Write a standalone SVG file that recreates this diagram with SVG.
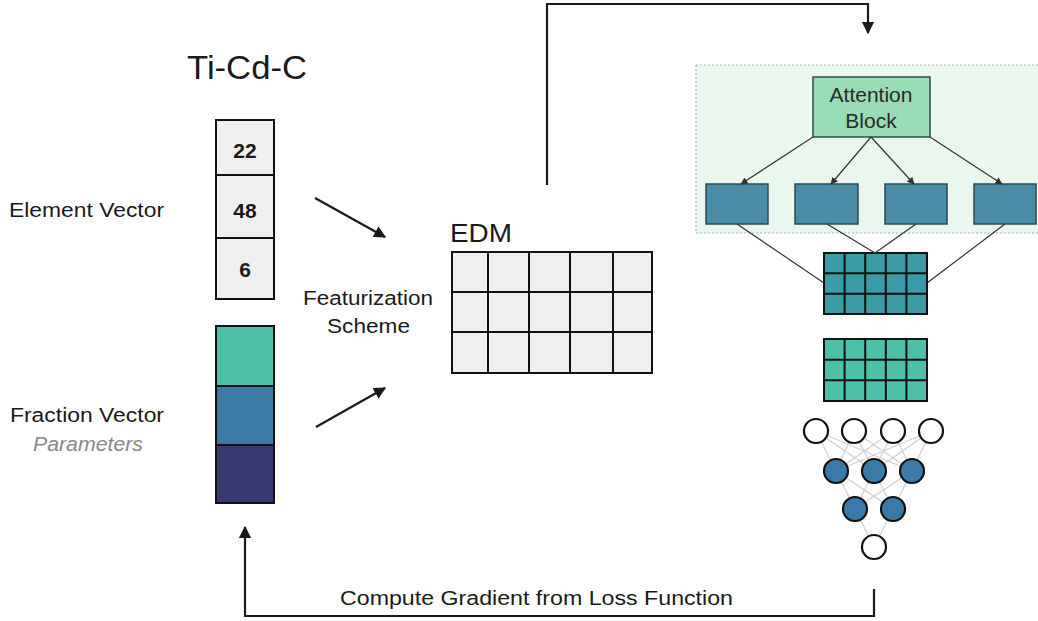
<svg xmlns="http://www.w3.org/2000/svg" width="1038" height="621" viewBox="0 0 1038 621">
<defs>
<style>
text{font-family:"Liberation Sans",Arial,sans-serif;fill:#1a1a1a}
.lbl{font-size:20px}
.num{font-size:21px;font-weight:bold;text-anchor:middle}
.conn{fill:none;stroke:#1a1a1a;stroke-width:2.2}
.thin{fill:none;stroke:#333;stroke-width:1.2}
.nn{stroke:#d0d0d0;stroke-width:1.2}
.grid{fill:none;stroke:#111;stroke-width:2}
.circ{stroke:#111;stroke-width:2.2}
</style>
<marker id="ah" viewBox="0 0 10 10" refX="9" refY="5" markerWidth="5.5" markerHeight="5.5" orient="auto" markerUnits="strokeWidth"><path d="M0,0 L10,5 L0,10 z" fill="#1a1a1a"/></marker>
<marker id="ahs" viewBox="0 0 10 10" refX="9" refY="5" markerWidth="6" markerHeight="6" orient="auto" markerUnits="strokeWidth"><path d="M0,0 L10,5 L0,10 z" fill="#333"/></marker>
</defs>
<rect width="1038" height="621" fill="#fff"/>

<g id="title"><text x="187" y="79" font-size="34" textLength="120" lengthAdjust="spacingAndGlyphs">Ti-Cd-C</text></g>

<g id="labels">
<text class="lbl" x="9" y="217" textLength="155" lengthAdjust="spacingAndGlyphs">Element Vector</text>
<text class="lbl" x="10" y="422" textLength="154" lengthAdjust="spacingAndGlyphs">Fraction Vector</text>
<text x="33" y="451" font-size="20" font-style="italic" style="fill:#888" textLength="110" lengthAdjust="spacingAndGlyphs">Parameters</text>
<text class="lbl" x="303" y="305" textLength="130" lengthAdjust="spacingAndGlyphs">Featurization</text>
<text class="lbl" x="327" y="333" textLength="83" lengthAdjust="spacingAndGlyphs">Scheme</text>
</g>

<g id="element-vector">
<rect x="216" y="120" width="58" height="179" fill="#efefef" stroke="#111" stroke-width="2"/>
<line x1="216" y1="175" x2="274" y2="175" stroke="#111" stroke-width="2"/>
<line x1="216" y1="238" x2="274" y2="238" stroke="#111" stroke-width="2"/>
<text class="num" x="245" y="158">22</text>
<text class="num" x="245" y="218">48</text>
<text class="num" x="245" y="277">6</text>
</g>

<g id="fraction-vector">
<rect x="216" y="326" width="58" height="60" fill="#4cc0a8"/>
<rect x="216" y="386" width="58" height="59" fill="#3a7aa4"/>
<rect x="216" y="445" width="58" height="58" fill="#3a3a70"/>
<rect x="216" y="326" width="58" height="177" fill="none" stroke="#111" stroke-width="2"/>
<line x1="216" y1="386" x2="274" y2="386" stroke="#111" stroke-width="2"/>
<line x1="216" y1="445" x2="274" y2="445" stroke="#111" stroke-width="2"/>
</g>

<g id="edm">
<text x="450" y="242" font-size="26" textLength="62" lengthAdjust="spacingAndGlyphs">EDM</text>
<rect x="452" y="252" width="200" height="121" fill="#efefef" stroke="#111" stroke-width="2"/>
<path class="grid" d="M488,252V373M529,252V373M570,252V373M613,252V373M452,292H652M452,332H652"/>
</g>

<g id="attention-region">
<rect x="696" y="65" width="345" height="168" fill="#eaf7ee" stroke="#b0b0b0" stroke-width="1.2" stroke-dasharray="2,2"/>
</g>

<g id="attention-block">
<rect x="813" y="77" width="117" height="60" fill="#98dcb5" stroke="#2f4f3f" stroke-width="1.5"/>
<text x="871" y="102" font-size="21" text-anchor="middle" style="fill:#2a2a2a">Attention</text>
<text x="871" y="128" font-size="21" text-anchor="middle" style="fill:#2a2a2a">Block</text>
</g>

<g id="heads">
<rect x="706" y="184" width="62" height="40" fill="#4a8ca8" stroke="#2a4a55" stroke-width="1.5"/>
<rect x="795" y="184" width="63" height="40" fill="#4a8ca8" stroke="#2a4a55" stroke-width="1.5"/>
<rect x="885" y="184" width="62" height="40" fill="#4a8ca8" stroke="#2a4a55" stroke-width="1.5"/>
<rect x="974" y="184" width="62" height="40" fill="#4a8ca8" stroke="#2a4a55" stroke-width="1.5"/>
</g>

<g id="grid-1">
<rect x="824" y="253" width="103" height="61" fill="#3a9aa5" stroke="#111" stroke-width="2"/>
<path class="grid" d="M844.6,253V314M865.2,253V314M885.8,253V314M906.4,253V314M824,273.3H927M824,293.7H927"/>
</g>

<g id="grid-2">
<rect x="824" y="339" width="103" height="62" fill="#4cc0a8" stroke="#111" stroke-width="2"/>
<path class="grid" d="M844.6,339V401M865.2,339V401M885.8,339V401M906.4,339V401M824,359.7H927M824,380.3H927"/>
</g>

<g id="nn-lines">
<path class="nn" d="M816,431L836,471M816,431L874,471M816,431L912,471M854,431L836,471M854,431L874,471M854,431L912,471M893,431L836,471M893,431L874,471M893,431L912,471M931,431L836,471M931,431L874,471M931,431L912,471M836,471L855,509M836,471L893,509M874,471L855,509M874,471L893,509M912,471L855,509M912,471L893,509M855,509L874,547M893,509L874,547"/>
</g>

<g id="nn-nodes">
<circle class="circ" cx="816" cy="431" r="12" fill="#fff"/>
<circle class="circ" cx="854" cy="431" r="12" fill="#fff"/>
<circle class="circ" cx="893" cy="431" r="12" fill="#fff"/>
<circle class="circ" cx="931" cy="431" r="12" fill="#fff"/>
<circle class="circ" cx="836" cy="471" r="12" fill="#3a7aa8"/>
<circle class="circ" cx="874" cy="471" r="12" fill="#3a7aa8"/>
<circle class="circ" cx="912" cy="471" r="12" fill="#3a7aa8"/>
<circle class="circ" cx="855" cy="509" r="12" fill="#3a7aa8"/>
<circle class="circ" cx="893" cy="509" r="12" fill="#3a7aa8"/>
<circle class="circ" cx="874" cy="547" r="12" fill="#fff"/>
</g>

<g id="connectors">
<line class="conn" x1="315" y1="198" x2="385" y2="237" marker-end="url(#ah)"/>
<line class="conn" x1="316" y1="427" x2="385" y2="388" marker-end="url(#ah)"/>
<path class="conn" d="M547,185V4H868V33" marker-end="url(#ah)"/>
<path class="conn" d="M874,589V616H245V527" marker-end="url(#ah)"/>
<line class="thin" x1="813" y1="137" x2="741" y2="184" marker-end="url(#ahs)"/>
<line class="thin" x1="871" y1="137" x2="831" y2="184" marker-end="url(#ahs)"/>
<line class="thin" x1="871" y1="137" x2="914" y2="184" marker-end="url(#ahs)"/>
<line class="thin" x1="930" y1="137" x2="1002" y2="184" marker-end="url(#ahs)"/>
<path class="thin" d="M737,224L824,283M827,224L875,253M916,224L875,253M1005,224L927,283"/>
</g>

<g id="footer-label">
<text x="340" y="605" font-size="20" textLength="393" lengthAdjust="spacingAndGlyphs">Compute Gradient from Loss Function</text>
</g>
</svg>
